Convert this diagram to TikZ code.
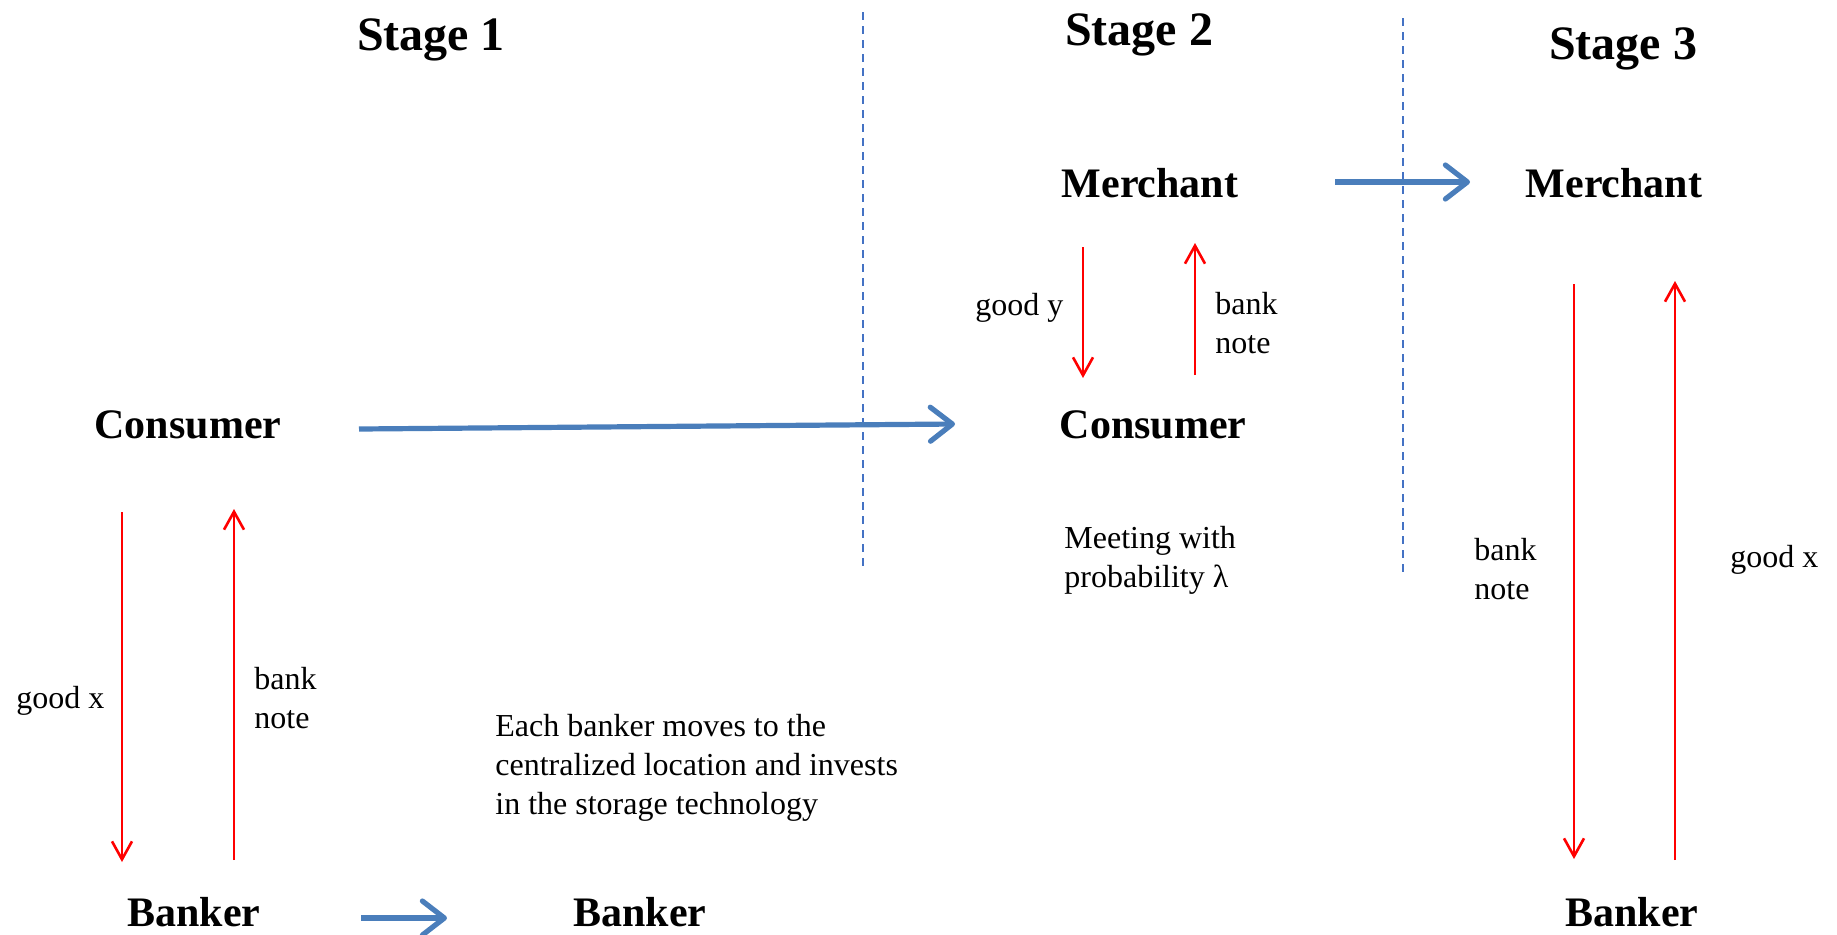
\documentclass[tikz,border=0pt]{standalone}
\usepackage{fontspec}
\setmainfont{Liberation Serif}
\usetikzlibrary{arrows.meta}
\definecolor{arrowblue}{RGB}{74,126,187}
\definecolor{dashblue}{RGB}{68,114,196}
\tikzset{
  stagelabel/.style={font=\bfseries\fontsize{24}{28}\selectfont, inner sep=0pt, anchor=base},
  agent/.style={font=\bfseries\fontsize{21}{25}\selectfont, inner sep=0pt, anchor=base},
  note/.style={font=\fontsize{16}{19.5}\selectfont, inner sep=0pt, anchor=base west, align=left},
  flow/.style={draw=red, line width=1.3pt, -{Straight Barb[length=9pt,width=10pt,line width=1.3pt]}},
  move/.style={draw=arrowblue, line width=2.6pt, -{Straight Barb[length=11pt,width=17pt,line width=2.6pt,round]}},
  divider/.style={draw=dashblue, line width=0.75pt, dash pattern=on 4pt off 3pt}
}
\begin{document}
\begin{tikzpicture}[x=0.5pt,y=-0.5pt]
\useasboundingbox (0,0) rectangle (1837,934);
% stage titles
\node[stagelabel] (s1) at (431,50) {Stage 1};
\node[stagelabel] (s2) at (1139,45) {Stage 2};
\node[stagelabel] (s3) at (1623,59) {Stage 3};
% dividers
\draw[divider] (863,12) -- (863,566);
\draw[divider] (1403,18) -- (1403,572);
% agents
\node[agent] (cons1) at (188,438) {Consumer};
\node[agent] (bank1) at (194,926) {Banker};
\node[agent] (bank2) at (640,926) {Banker};
\node[agent] (merch2) at (1150,197) {Merchant};
\node[agent] (cons2) at (1153,438) {Consumer};
\node[agent] (merch3) at (1614,197) {Merchant};
\node[agent] (bank3) at (1632,926) {Banker};
% texts (base = baseline of the last line)
\node[note] (gx1) at (16,708) {good x};
\node[note] (bn1) at (254,728) {bank\\note};
\node[note] (each) at (495,814) {Each banker moves to the\\centralized location and invests\\in the storage technology};
\node[note] (gy2) at (975,315) {good y};
\node[note] (bn2) at (1215,353) {bank\\note};
\node[note] (meet) at (1064,587) {Meeting with\\probability λ};
\node[note] (bn3) at (1474,599) {bank\\note};
\node[note] (gx3) at (1730,567) {good x};
% arrow end points
\coordinate (a1s) at (122,512); \coordinate (a1e) at (122,862);
\coordinate (b1s) at (234,860); \coordinate (b1e) at (234,509);
\coordinate (a2s) at (1083,247); \coordinate (a2e) at (1083,378);
\coordinate (b2s) at (1195,375); \coordinate (b2e) at (1195,243);
\coordinate (a3s) at (1574,284); \coordinate (a3e) at (1574,859);
\coordinate (b3s) at (1675,860); \coordinate (b3e) at (1675,281);
\coordinate (m1s) at (359,429); \coordinate (m1e) at (955,424);
\coordinate (m2s) at (361,918); \coordinate (m2e) at (447,918);
\coordinate (m3s) at (1335,182); \coordinate (m3e) at (1470,182);
% red flows
\draw[flow] (a1s) -- (a1e);
\draw[flow] (b1s) -- (b1e);
\draw[flow] (a2s) -- (a2e);
\draw[flow] (b2s) -- (b2e);
\draw[flow] (a3s) -- (a3e);
\draw[flow] (b3s) -- (b3e);
% blue moves
\draw[move] (m1s) -- (m1e);
\draw[move] (m2s) -- (m2e);
\draw[move] (m3s) -- (m3e);
\end{tikzpicture}
\end{document}
